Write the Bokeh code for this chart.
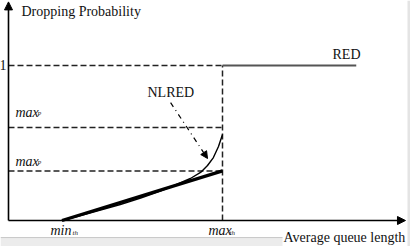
from bokeh.plotting import figure
from bokeh.models import Arrow, NormalHead, Range1d
from bokeh.core.properties import value
from bokeh.embed import file_html
from bokeh.resources import INLINE

# conceptual data
min_th = 1.0
max_th = 4.0
q_end = 6.5          # RED line drawn to here
axis_x_end = 7.42
axis_y_end = 1.41
max_p = 0.32
max_p2 = 0.60
p_one = 1.0

# RED (linear) between min_th and max_th
red_x = [min_th, max_th]
red_y = [0.0, max_p]
# RED above max_th
red_hi_x = [max_th, q_end]
red_hi_y = [p_one, p_one]
# NLRED curve
nl_x = [1.0, 1.35, 1.72, 2.09, 2.47, 2.84, 3.12, 3.40, 3.59, 3.72, 3.83, 3.925, 4.0]
nl_y = [0.0, 0.032, 0.068, 0.103, 0.145, 0.190, 0.229, 0.271, 0.310, 0.355, 0.406, 0.477, 0.555]

FONT = value("Liberation Serif")

p = figure(width=410, height=246, output_backend="svg", toolbar_location=None,
           x_range=Range1d(-0.1495, 7.514), y_range=Range1d(-0.1677, 1.419),
           min_border=0, min_border_left=0, min_border_right=0,
           min_border_top=0, min_border_bottom=0)
p.axis.visible = False
p.grid.visible = False
p.outline_line_color = None
p.background_fill_color = "white"
p.border_fill_color = "white"

# image frame strips (light gray)
p.quad(left=[-0.1495], right=[(282 - 8) / 53.5], bottom=[-0.1677], top=[-0.11],
       fill_color="#ececec", line_color=None)
p.segment(x0=[-0.1495], y0=[-0.11], x1=[(282 - 8) / 53.5], y1=[-0.11],
          line_color="#c8c8c8", line_width=1)
p.quad(left=[(407 - 8) / 53.5], right=[7.514], bottom=[-0.1677], top=[1.419],
       fill_color="#e4e4e4", line_color=None)

# dashed reference lines
p.segment(x0=[0, 0, 0], y0=[p_one, max_p2, max_p], x1=[max_th] * 3, y1=[p_one, max_p2, max_p],
          line_color="#222222", line_width=1.5, line_dash="6 3")
p.segment(x0=[max_th], y0=[0], x1=[max_th], y1=[p_one],
          line_color="#222222", line_width=1.5, line_dash="6 3")

# RED high part
p.line(red_hi_x, red_hi_y, line_color="#555555", line_width=2)
# RED linear
p.line(red_x, red_y, line_color="black", line_width=3.2)
# NLRED
p.line(nl_x, nl_y, line_color="black", line_width=1.4)

# axes with arrows
p.add_layout(Arrow(end=NormalHead(size=8, fill_color="black", line_color="black"),
                   x_start=0, y_start=0, x_end=0, y_end=axis_y_end,
                   line_color="black", line_width=1.6))
p.add_layout(Arrow(end=NormalHead(size=8, fill_color="black", line_color="black"),
                   x_start=0, y_start=0, x_end=axis_x_end, y_end=0,
                   line_color="black", line_width=1.6))

# NLRED annotation arrow (dash-dot)
p.add_layout(Arrow(end=NormalHead(size=7, fill_color="black", line_color="black"),
                   x_start=3.03, y_start=0.76, x_end=3.72, y_end=0.40,
                   line_color="black", line_width=1.2, line_dash="5 4 1 4"))

def txt(x, y, s, size, style="normal", align="left", baseline="middle", color="#111111"):
    p.text(x=[x], y=[y], text=[s], text_font=FONT, text_font_size=size,
           text_font_style=style, text_align=align, text_baseline=baseline,
           text_color=color)

txt((21 - 8) / 53.5, (220 - 11) / 155, "Dropping Probability", "14px")
txt((6 - 8) / 53.5, p_one, "1", "14px", align="right")
txt((360 - 8) / 53.5, (220 - 54) / 155, "RED", "14px", align="right")
txt((147 - 8) / 53.5, (220 - 92) / 155, "NLRED", "14px")
txt((283 - 8) / 53.5, (220 - 237) / 155, "Average queue length", "14px")

# max_p labels
for yy in [(220 - 112) / 155, (220 - 161) / 155]:
    txt((15 - 8) / 53.5, yy, "max", "14px", style="italic")
    txt((37 - 8) / 53.5, yy - 0.012, "P", "6px", style="italic")
# min_th
txt((50 - 8) / 53.5, (220 - 230) / 155, "min", "14px", style="italic")
txt((72 - 8) / 53.5, (220 - 232) / 155, "th", "7px", style="italic")
# max_th
txt((208 - 8) / 53.5, (220 - 230) / 155, "max", "14px", style="italic")
txt((229 - 8) / 53.5, (220 - 232) / 155, "th", "7px", style="italic")

open("out.html", "w").write(file_html(p, INLINE))
